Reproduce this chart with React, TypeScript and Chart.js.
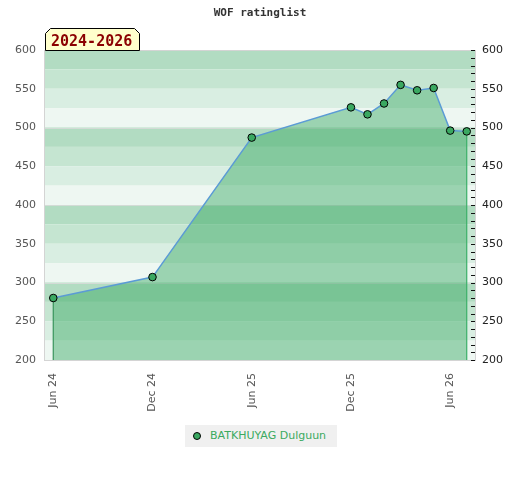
import React, { useEffect, useRef } from "react";
import { Chart, registerables } from "chart.js";

Chart.register(...registerables);

const chartTitle = "WOF ratinglist";
const periodLabel = "2024-2026";
const playerName = "BATKHUYAG Dulguun";

const months = [
  "2024-06", "2024-12", "2025-06", "2025-12", "2026-01", "2026-02",
  "2026-03", "2026-04", "2026-05", "2026-06", "2026-07",
];
const ratings = [280, 307, 487, 526, 517, 531, 555, 548, 551, 496, 495];

const xTickMonths = ["2024-06", "2024-12", "2025-06", "2025-12", "2026-06"];
const xTickLabels = ["Jun 24", "Dec 24", "Jun 25", "Dec 25", "Jun 26"];
const yTicks = [200, 250, 300, 350, 400, 450, 500, 550, 600];

const bandColors = ["#b2dcc2", "#c5e5d1", "#d9eee2", "#eef7f2"];

const monthIndex = (m: string) => {
  const [y, mo] = m.split("-").map(Number);
  return (y - 2024) * 12 + (mo - 6);
};

const FONT = "'DejaVu Sans', sans-serif";

export default function App() {
  const ref = useRef<HTMLCanvasElement | null>(null);

  useEffect(() => {
    document.body.style.margin = "0";
    const canvas = ref.current;
    if (!canvas) return;

    const bandsPlugin = {
      id: "bands",
      beforeDatasetsDraw(chart: any) {
        const { ctx, chartArea } = chart;
        const ys = chart.scales.y;
        ctx.save();
        let k = 0;
        for (let v = 600; v > 200; v -= 25) {
          const top = ys.getPixelForValue(v);
          const bot = ys.getPixelForValue(v - 25);
          ctx.fillStyle = bandColors[k % 4];
          ctx.fillRect(chartArea.left, top, chartArea.right - chartArea.left, bot - top);
          k++;
        }
        ctx.strokeStyle = "#d3dbd6";
        ctx.lineWidth = 1;
        [500, 400, 300].forEach((v) => {
          const y = Math.round(ys.getPixelForValue(v)) + 0.5;
          ctx.beginPath();
          ctx.moveTo(chartArea.left, y);
          ctx.lineTo(chartArea.right, y);
          ctx.stroke();
        });
        const meta = chart.getDatasetMeta(0);
        const pts = meta.data;
        if (pts.length) {
          const first = pts[0];
          const last = pts[pts.length - 1];
          ctx.lineWidth = 1.2;
          ctx.strokeStyle = "#3a8f5a";
          ctx.beginPath();
          ctx.moveTo(first.x, first.y);
          ctx.lineTo(first.x, chartArea.bottom);
          ctx.stroke();
          ctx.strokeStyle = "#3cb36a";
          ctx.beginPath();
          ctx.moveTo(last.x, last.y);
          ctx.lineTo(last.x, chartArea.bottom);
          ctx.stroke();
        }
        ctx.restore();
      },
      afterDraw(chart: any) {
        const { ctx, chartArea } = chart;
        const ys = chart.scales.y2;
        ctx.save();
        ctx.strokeStyle = "#d4d4d4";
        ctx.lineWidth = 1;
        ctx.strokeRect(
          Math.round(chartArea.left) - 0.5,
          Math.round(chartArea.top) + 0.5,
          Math.round(chartArea.right - chartArea.left) + 1,
          Math.round(chartArea.bottom - chartArea.top)
        );
        ctx.strokeStyle = "#111";
        for (let v = 200; v <= 600; v += 10) {
          const y = Math.round(ys.getPixelForValue(v)) + 0.5;
          ctx.beginPath();
          ctx.moveTo(chartArea.right - 4, y);
          ctx.lineTo(chartArea.right, y);
          ctx.stroke();
        }
        ctx.fillStyle = "#333";
        ctx.font = "bold 11px 'DejaVu Sans Mono', monospace";
        ctx.textAlign = "center";
        ctx.textBaseline = "middle";
        ctx.fillText(chartTitle, 260, 13);
        const bx = Math.round(chartArea.left);
        const by = 28;
        const bw = 95;
        const bh = Math.round(chartArea.top) - by;
        const c = 5;
        ctx.beginPath();
        ctx.moveTo(bx + 0.5, by + bh + 0.5);
        ctx.lineTo(bx + 0.5, by + c + 0.5);
        ctx.lineTo(bx + c + 0.5, by + 0.5);
        ctx.lineTo(bx + bw - c - 0.5, by + 0.5);
        ctx.lineTo(bx + bw - 0.5, by + c + 0.5);
        ctx.lineTo(bx + bw - 0.5, by + bh + 0.5);
        ctx.closePath();
        ctx.fillStyle = "#ffffcc";
        ctx.fill();
        ctx.strokeStyle = "#000";
        ctx.stroke();
        ctx.fillStyle = "#8b0000";
        ctx.font = "bold 15px 'DejaVu Sans Mono', monospace";
        ctx.textAlign = "left";
        ctx.textBaseline = "alphabetic";
        ctx.fillText(periodLabel, bx + 6, by + 17.5);
        ctx.restore();
      },
    };

    const yAxisBase = {
      type: "linear" as const,
      min: 200,
      max: 600,
      grid: { display: false, drawTicks: false },
      border: { display: false },
      afterBuildTicks(scale: any) {
        scale.ticks = yTicks.map((v) => ({ value: v }));
      },
      afterFit(scale: any) {
        scale.width = 45;
      },
    };

    const chart = new Chart(canvas, {
      type: "line",
      data: {
        datasets: [
          {
            label: playerName,
            data: months.map((m, i) => ({ x: monthIndex(m), y: ratings[i] })),
            borderColor: "#5b9bd5",
            borderWidth: 1.5,
            backgroundColor: "rgba(46,165,90,0.43)",
            fill: "start",
            tension: 0,
            pointRadius: 3.8,
            pointBackgroundColor: "#3aa861",
            pointBorderColor: "#000",
            pointBorderWidth: 1,
            yAxisID: "y",
          },
        ],
      },
      plugins: [bandsPlugin],
      options: {
        animation: false,
        responsive: false,
        devicePixelRatio: 1,
        layout: { padding: { top: 50, bottom: 60, left: 0, right: 0 } },
        plugins: {
          legend: { display: false },
          tooltip: { enabled: false },
          title: { display: false },
        },
        scales: {
          x: {
            type: "linear",
            min: -0.5,
            max: 25.5,
            grid: { display: false, drawTicks: false },
            border: { display: false },
            afterBuildTicks(scale: any) {
              scale.ticks = xTickMonths.map((m) => ({ value: monthIndex(m) }));
            },
            afterFit(scale: any) {
              scale.height = 60;
            },
            ticks: {
              autoSkip: false,
              minRotation: 90,
              maxRotation: 90,
              padding: 13,
              color: "#555",
              font: { family: FONT, size: 11 },
              callback(value: any) {
                const i = xTickMonths.findIndex((m) => monthIndex(m) === value);
                return i >= 0 ? xTickLabels[i] : "";
              },
            },
          },
          y: {
            ...yAxisBase,
            position: "left",
            ticks: { padding: 9, color: "#555", font: { family: FONT, size: 11 } },
          },
          y2: {
            ...yAxisBase,
            position: "right",
            ticks: { padding: 7, color: "#222", font: { family: FONT, size: 11 } },
          },
        } as any,
      },
    });

    return () => chart.destroy();
  }, []);

  return (
    <div style={{ position: "fixed", left: 0, top: 0, width: 520, height: 480 }}>
      <canvas ref={ref} width={520} height={480} />
      <div
        style={{
          position: "absolute",
          left: 185,
          top: 425,
          width: 152,
          height: 22,
          background: "#f0f0f0",
          fontFamily: FONT,
          fontSize: 11,
          lineHeight: "22px",
          color: "#3aaa5f",
        }}
      >
        <span
          style={{
            position: "absolute",
            left: 8,
            top: 7,
            width: 6,
            height: 6,
            borderRadius: "50%",
            background: "#3aa861",
            border: "1px solid #000",
          }}
        />
        <span style={{ position: "absolute", left: 25, top: 0, whiteSpace: "nowrap" }}>
          {playerName}
        </span>
      </div>
    </div>
  );
}
